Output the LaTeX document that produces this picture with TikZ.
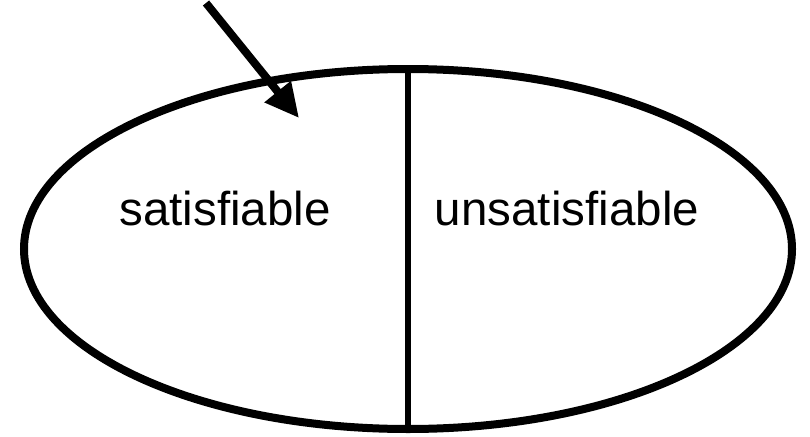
\documentclass[tikz,border=0pt]{standalone}
\usepackage{fontspec}
\setmainfont{Liberation Sans}
\usetikzlibrary{arrows.meta}
\begin{document}
\begin{tikzpicture}[x=1pt,y=-1pt,
  lbl/.style={font=\fontsize{47.5}{50}\selectfont, anchor=base, inner sep=0pt},
  arr/.style={line width=8pt, -{Triangle[length=34pt,width=32pt]}}]
\useasboundingbox (0,0) rectangle (810,436);
\draw[line width=8pt] (408,249) ellipse[x radius=384, y radius=180];
\coordinate (top) at (408,69);
\coordinate (bot) at (408,429);
\draw[line width=5.5pt] (top) -- (bot);
\node[lbl] (sat) at (225,225) {satisfiable};
\node[lbl] (unsat) at (567,225) {unsatisfiable};
\coordinate (start) at (206,3);
\coordinate (tip) at (299,118);
\draw[arr] (start) -- (tip);
\end{tikzpicture}
\end{document}
